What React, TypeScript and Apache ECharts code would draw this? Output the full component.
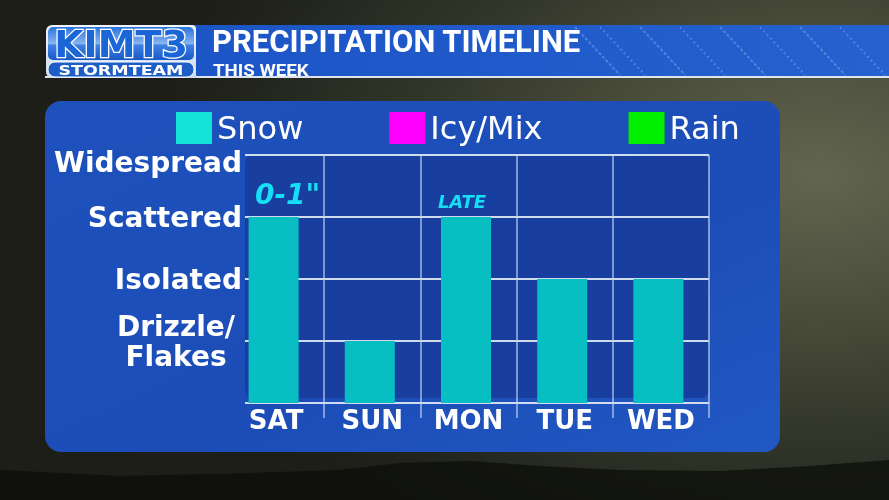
import React, { useEffect, useRef } from "react";
import * as echarts from "echarts";

// ---- data ----
const days = ["SAT", "SUN", "MON", "TUE", "WED"];
const snowLevels = [3, 1, 3, 2, 2];
const icyMixLevels: number[] = [];
const rainLevels: number[] = [];
const notes = ['0-1"', "", "LATE", "", ""];
const levelLabels = ["", "Drizzle/\nFlakes", "Isolated", "Scattered", "Widespread"];
const legendNames = ["Snow", "Icy/Mix", "Rain"];
const titleText = "PRECIPITATION TIMELINE";
const subtitleText = "THIS WEEK";

const FONT = "DejaVu Sans";
const noteStyle: Record<string, { fontSize: number; distance: number; offset: number[] }> = {
  '0-1"': { fontSize: 28, distance: 9, offset: [14, 0] },
  LATE: { fontSize: 18, distance: 7, offset: [-4, 0] },
};

export default function App() {
  const ref = useRef<HTMLDivElement>(null);
  useEffect(() => {
    if (!ref.current) return;
    const chart = echarts.init(ref.current, null, { renderer: "svg" });
    const lineCol = "rgba(226,232,244,0.92)";
    const vLineCol = "rgba(200,212,236,0.6)";
    const skipFirst = (idx: number) => idx > 0;

    const option: any = {
      animation: false,
      backgroundColor: "transparent",
      graphic: [
        // mountains
        {
          type: "polygon",
          z: -20,
          shape: {
            points: [
              [0, 470], [120, 476], [250, 473], [340, 470], [400, 463], [470, 461],
              [540, 466], [620, 470], [720, 471], [810, 466], [889, 460], [889, 500], [0, 500],
            ],
          },
          style: { fill: "rgba(12,13,10,0.75)" },
        },
        // panel
        {
          type: "rect",
          z: -10,
          shape: { x: 45, y: 101, width: 735, height: 351, r: 16 },
          style: {
            fill: new echarts.graphic.LinearGradient(0, 0, 1, 1, [
              { offset: 0, color: "#1e51bd" },
              { offset: 0.6, color: "#1c4db7" },
              { offset: 1, color: "#2158c4" },
            ]),
          },
        },
        // plot background
        {
          type: "rect",
          z: -9,
          shape: { x: 245, y: 155, width: 464, height: 243, r: 8 },
          style: { fill: "#183fa0" },
        },
        // banner
        {
          type: "rect",
          z: -10,
          shape: { x: 190, y: 25, width: 699, height: 52 },
          style: {
            fill: new echarts.graphic.LinearGradient(0, 0, 1, 0, [
              { offset: 0, color: "#1c55c6" },
              { offset: 1, color: "#2561cf" },
            ]),
          },
        },
        {
          type: "rect",
          z: -9,
          shape: { x: 45, y: 76, width: 844, height: 2 },
          style: { fill: "#dde4ef" },
        },
        // banner stripes
        ...[575, 600, 640, 680, 720, 760, 800, 840].map((x, i) => ({
          type: "line",
          z: -9,
          shape: { x1: x, y1: 27, x2: x + 45, y2: 75 },
          style: { stroke: "rgba(170,200,245,0.35)", lineWidth: 2, lineDash: i % 2 ? [2, 3] : [3, 2] },
        })),
        // logo
        {
          type: "rect",
          z: -8,
          shape: { x: 46, y: 25, width: 150, height: 53, r: [6, 4, 0, 6] },
          style: {
            fill: new echarts.graphic.LinearGradient(0, 0, 0, 1, [
              { offset: 0, color: "#f2f6fc" },
              { offset: 1, color: "#cfdaea" },
            ]),
          },
        },
        {
          type: "rect",
          z: -7,
          shape: { x: 48, y: 27, width: 146, height: 33, r: 5 },
          style: {
            fill: new echarts.graphic.LinearGradient(0, 0, 0, 1, [
              { offset: 0, color: "#2a74de" },
              { offset: 0.5, color: "#86b4ee" },
              { offset: 0.55, color: "#3f82e2" },
              { offset: 1, color: "#1858c8" },
            ]),
          },
        },
        {
          type: "text",
          z: -6,
          x: 121,
          y: 44,
          style: {
            text: "KIMT3",
            fill: "#1b66d6",
            stroke: "#ffffff",
            lineWidth: 2.5,
            font: `bold 38px '${FONT}'`,
            align: "center",
            verticalAlign: "middle",
          },
        },
        {
          type: "rect",
          z: -6,
          shape: { x: 48, y: 62, width: 146, height: 15, r: 7 },
          style: { fill: "#1d5ec6", stroke: "#ffffff", lineWidth: 1 },
        },
        {
          type: "text",
          z: -5,
          x: 121,
          y: 70,
          scaleX: 1.25,
          style: {
            text: "STORMTEAM",
            fill: "#ffffff",
            font: `bold 14px '${FONT}'`,
            align: "center",
            verticalAlign: "middle",
          },
        },
        // title
        {
          type: "text",
          z: -5,
          x: 212,
          y: 41,
          style: {
            text: titleText,
            fill: "#ffffff",
            font: "bold 31px Roboto",
            align: "left",
            verticalAlign: "middle",
          },
        },
        {
          type: "text",
          z: -5,
          x: 213,
          y: 70,
          scaleX: 1.1,
          style: {
            text: subtitleText,
            fill: "#ffffff",
            font: "bold 17px Roboto",
            align: "left",
            verticalAlign: "middle",
          },
        },
      ],
      legend: {
        left: 171,
        top: 107,
        itemWidth: 36,
        itemHeight: 32,
        itemGap: 86,
        icon: "rect",
        selectedMode: false,
        textStyle: { color: "#ffffff", fontSize: 32, fontFamily: FONT },
        data: [
          { name: legendNames[0], itemStyle: { color: "#12e2d8" } },
          { name: legendNames[1] },
          { name: legendNames[2] },
        ],
      },
      grid: [
        { left: 245, right: 180, top: 155, bottom: 97 },
        { left: 228, right: 180, top: 155, bottom: 97 },
      ],
      xAxis: [
        { gridIndex: 0, type: "value", min: 0, max: 1, show: false },
        {
          gridIndex: 1,
          type: "category",
          data: days,
          axisLine: { show: false },
          axisTick: { show: true, interval: skipFirst, length: 15, lineStyle: { color: vLineCol, width: 2 } },
          splitLine: { show: true, interval: skipFirst, lineStyle: { color: vLineCol, width: 2 } },
          axisLabel: {
            interval: 0,
            margin: 4,
            color: "#ffffff",
            fontSize: 26,
            fontWeight: "bold",
            fontFamily: FONT,
          },
        },
      ],
      yAxis: [
        {
          gridIndex: 0,
          type: "value",
          min: 0,
          max: 4,
          interval: 1,
          axisLine: { show: false },
          axisTick: { show: false },
          splitLine: { show: true, lineStyle: { color: lineCol, width: 2 } },
          axisLabel: {
            margin: 3,
            color: "#ffffff",
            fontSize: 28,
            fontWeight: "bold",
            fontFamily: FONT,
            formatter: (v: number) => {
              const t = levelLabels[v] ?? "";
              if (t.includes("\n")) return t.split("\n").map((s) => `{c|${s}}`).join("\n");
              if (v === levelLabels.length - 1) return `{top|${t}}`;
              return t;
            },
            rich: {
              c: {
                width: 132,
                align: "center",
                lineHeight: 30,
                color: "#ffffff",
                fontSize: 28,
                fontWeight: "bold",
                fontFamily: FONT,
              },
              top: {
                padding: [14, 0, 0, 0],
                color: "#ffffff",
                fontSize: 28,
                fontWeight: "bold",
                fontFamily: FONT,
              },
            },
          },
        },
        { gridIndex: 1, type: "value", min: 0, max: 4, interval: 1, show: false },
      ],
      series: [
        {
          name: legendNames[0],
          type: "bar",
          xAxisIndex: 1,
          yAxisIndex: 1,
          barWidth: 50,
          itemStyle: { color: "#07bec3" },
          data: snowLevels.map((v, i) => {
            const n = notes[i];
            const st = noteStyle[n];
            return {
              value: v,
              label: n
                ? {
                    show: true,
                    position: "top",
                    formatter: n,
                    distance: st.distance,
                    offset: st.offset,
                    color: "#16def4",
                    fontSize: st.fontSize,
                    fontStyle: "italic",
                    fontWeight: "bold",
                    fontFamily: FONT,
                  }
                : { show: false },
            };
          }),
        },
        {
          name: legendNames[1],
          type: "bar",
          xAxisIndex: 1,
          yAxisIndex: 1,
          itemStyle: { color: "#ff00ff" },
          data: icyMixLevels,
        },
        {
          name: legendNames[2],
          type: "bar",
          xAxisIndex: 1,
          yAxisIndex: 1,
          itemStyle: { color: "#00f000" },
          data: rainLevels,
        },
      ],
    };
    chart.setOption(option);
    return () => chart.dispose();
  }, []);

  return (
    <div
      ref={ref}
      style={{
        position: "fixed",
        left: 0,
        top: 0,
        width: 889,
        height: 500,
        background:
          "radial-gradient(ellipse 75% 85% at 92% 35%, #62654f 0%, #4c4f3c 30%, #33372a 60%, #24271e 85%, #1c1e17 100%)",
      }}
    />
  );
}
